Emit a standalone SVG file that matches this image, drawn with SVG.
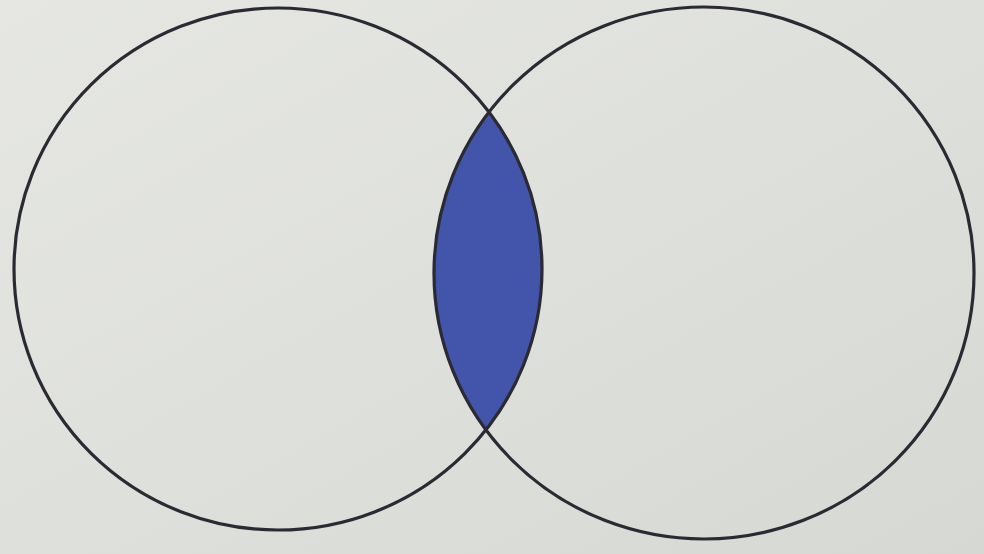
<svg xmlns="http://www.w3.org/2000/svg" width="984" height="554" viewBox="0 0 984 554">
  <defs>
    <linearGradient id="bg" x1="0" y1="0" x2="1" y2="1">
      <stop offset="0" stop-color="#e6e7e3"/>
      <stop offset="1" stop-color="#d6d9d3"/>
    </linearGradient>
    <clipPath id="clipLeft">
      <ellipse cx="278" cy="269" rx="264" ry="261"/>
    </clipPath>
    <style>
      .ring { fill: none; stroke: #2b2a33; stroke-width: 3.2; }
      .lens { fill: #4255ab; }
    </style>
  </defs>
  <rect width="984" height="554" fill="url(#bg)"/>
  <g id="intersection">
    <ellipse class="lens" cx="704" cy="273" rx="270" ry="266" clip-path="url(#clipLeft)"/>
  </g>
  <g id="setA">
    <ellipse class="ring" cx="278" cy="269" rx="264" ry="261"/>
  </g>
  <g id="setB">
    <ellipse class="ring" cx="704" cy="273" rx="270" ry="266"/>
  </g>
  <g id="connectors"/>
</svg>
